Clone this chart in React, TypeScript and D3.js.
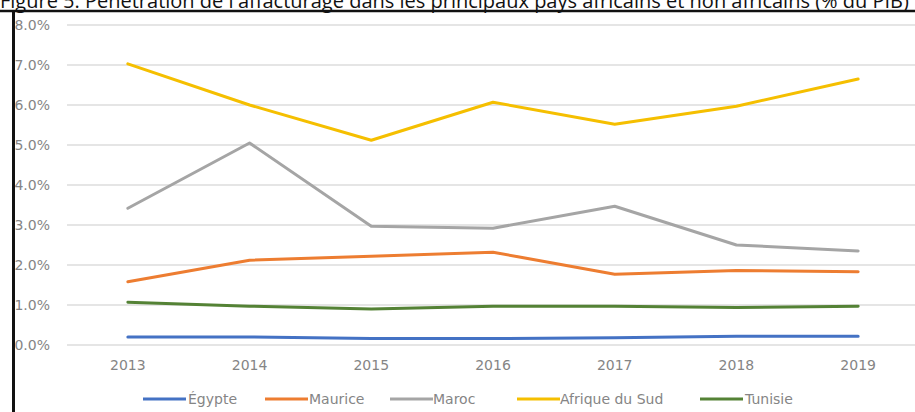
import React from "react";
import * as d3 from "d3";

const years = ["2013", "2014", "2015", "2016", "2017", "2018", "2019"];
const egypte = [0.2, 0.2, 0.16, 0.16, 0.18, 0.22, 0.22];
const maurice = [1.58, 2.12, 2.22, 2.32, 1.77, 1.86, 1.83];
const maroc = [3.42, 5.05, 2.97, 2.92, 3.47, 2.5, 2.35];
const afriqueDuSud = [7.03, 6.0, 5.12, 6.07, 5.52, 5.97, 6.65];
const tunisie = [1.07, 0.97, 0.9, 0.97, 0.97, 0.94, 0.97];
const yTicks = [0, 1, 2, 3, 4, 5, 6, 7, 8];
const seriesNames = ["Égypte", "Maurice", "Maroc", "Afrique du Sud", "Tunisie"];
const title =
  "Figure 5: Pénétration de l'affacturage dans les principaux pays africains et non africains (% du PIB)";

const colors = ["#4472C4", "#ED7D31", "#A5A5A5", "#F5BF00", "#548235"];

export default function App() {
  const W = 915;
  const H = 412;
  const series = [egypte, maurice, maroc, afriqueDuSud, tunisie];

  const x = d3.scaleBand<string>().domain(years).range([67, 919]);
  const y = d3.scaleLinear().domain([0, 8]).range([345, 25]);
  const cx = (d: string) => (x(d) as number) + x.bandwidth() / 2;

  const line = (vals: number[]) =>
    d3
      .line<number>()
      .x((_, i) => cx(years[i]))
      .y((v) => y(v))(vals) as string;

  const legendItems = [
    { lx: 143, tx: 188 },
    { lx: 265, tx: 309 },
    { lx: 390, tx: 433 },
    { lx: 517, tx: 560 },
    { lx: 700, tx: 745 },
  ];

  const labelFont = "'DejaVu Sans', Verdana, sans-serif";

  return (
    <svg
      width={W}
      height={H}
      style={{ position: "absolute", left: 0, top: 0, background: "#fff" }}
    >
      <rect x={0} y={0} width={W} height={H} fill="#fff" />
      {yTicks.map((t) => (
        <line
          key={t}
          x1={67}
          x2={W}
          y1={y(t)}
          y2={y(t)}
          stroke="#DCDCDC"
          strokeWidth={1.5}
        />
      ))}
      {yTicks.map((t) => (
        <text
          key={"l" + t}
          x={50}
          y={y(t)}
          dy="0.36em"
          textAnchor="end"
          fontFamily={labelFont}
          fontSize={14}
          fill="#858585"
        >
          {t.toFixed(1) + "%"}
        </text>
      ))}
      {years.map((yr) => (
        <text
          key={yr}
          x={cx(yr)}
          y={370}
          textAnchor="middle"
          fontFamily={labelFont}
          fontSize={14}
          fill="#858585"
        >
          {yr}
        </text>
      ))}
      {series.map((s, i) => (
        <path
          key={seriesNames[i]}
          d={line(s)}
          fill="none"
          stroke={colors[i]}
          strokeWidth={3}
          strokeLinejoin="round"
          strokeLinecap="round"
        />
      ))}
      {seriesNames.map((n, i) => (
        <g key={"lg" + n}>
          <line
            x1={legendItems[i].lx}
            x2={legendItems[i].lx + 43}
            y1={399}
            y2={399}
            stroke={colors[i]}
            strokeWidth={3}
          />
          <text
            x={legendItems[i].tx}
            y={399}
            dy="0.36em"
            fontFamily={labelFont}
            fontSize={14}
            fill="#858585"
          >
            {n}
          </text>
        </g>
      ))}
      <line x1={0} x2={W} y1={11} y2={11} stroke="#111" strokeWidth={2.5} />
      <line x1={13.5} x2={13.5} y1={10} y2={H} stroke="#111" strokeWidth={3} />
      <text
        x={0}
        y={8}
        fontFamily="'Open Sans', sans-serif"
        fontSize={20}
        fill="#111"
      >
        {title}
      </text>
    </svg>
  );
}
